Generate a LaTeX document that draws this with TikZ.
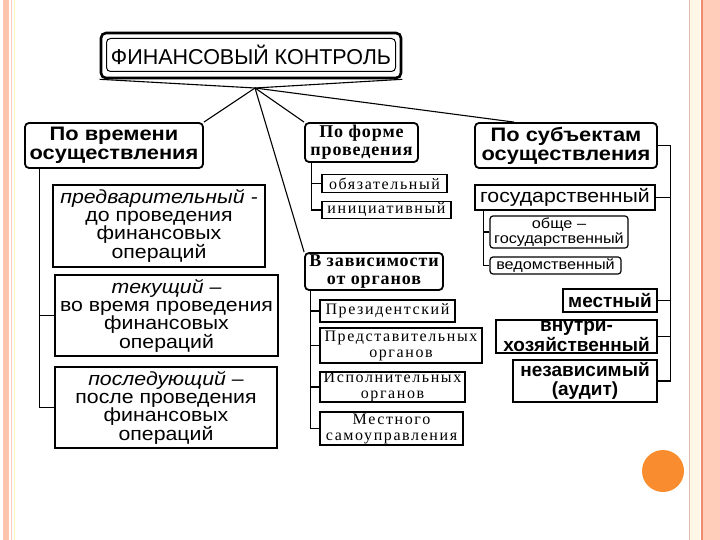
\documentclass[tikz,border=0pt]{standalone}
\usepackage{fontspec}
\setmainfont{Liberation Serif}
\setsansfont{Liberation Sans}
\newfontfamily\widesans[FakeStretch=1.12]{Liberation Sans}
\newfontfamily\wideserif[LetterSpace=10]{Liberation Serif}
\newfontfamily\hdrserif[LetterSpace=5]{Liberation Serif}
\usetikzlibrary{calc}
\definecolor{pinkc}{RGB}{255,196,172}
\definecolor{pinkl}{RGB}{255,205,185}
\definecolor{creamc}{RGB}{255,246,232}
\definecolor{tanc}{RGB}{222,190,170}
\definecolor{orline}{RGB}{238,140,105}
\definecolor{dotc}{RGB}{250,140,48}
\tikzset{
  bx/.style={draw, line width=1.6pt, inner sep=0pt, align=center},
  hdrs/.style={bx, rounded corners=4pt, line width=1.8pt,
     font=\widesans\bfseries\fontsize{19.5}{19}\selectfont},
  hdrr/.style={bx, rounded corners=4pt, line width=1.8pt,
     font=\hdrserif\bfseries\fontsize{18}{18}\selectfont},
  lbox/.style={bx, font=\widesans\fontsize{19}{18}\selectfont},
  rbox/.style={bx, font=\widesans\fontsize{19}{17}\selectfont},
  rboxb/.style={bx, font=\sffamily\bfseries\fontsize{19}{18}\selectfont},
  sbox/.style={bx, rounded corners=3pt, line width=1.2pt, font=\widesans\fontsize{14.5}{13}\selectfont},
  mbox/.style={bx, font=\wideserif\fontsize{16}{16}\selectfont},
  conn/.style={line width=1.1pt},
}
\begin{document}
\begin{tikzpicture}[x=1pt,y=-1pt]
\useasboundingbox (0,0) rectangle (720,540);
% slide frame
\fill[pinkc] (3,0) rectangle (9,540);
\draw[pinkl, line width=1pt] (11,0) -- (11,540);
\draw[creamc!80!yellow, line width=1pt] (14,0) -- (14,540);
\fill[creamc] (690,0) rectangle (700,540);
\draw[tanc, line width=1pt] (689,0) -- (689,540);
\fill[orline] (700.5,0) rectangle (703,540);
\fill[pinkl] (703,0) rectangle (720,540);
\fill[dotc] (663,471) circle (21);

% title
\node[draw, line width=2.6pt, rounded corners=5pt, minimum width=300pt, minimum height=45pt, inner sep=0pt] (title) at (251,55.5) {};
\node[draw, line width=1pt, rounded corners=4pt, minimum width=289pt, minimum height=33pt, inner sep=0pt,
  font=\sffamily\fontsize{21.5}{21}\selectfont] (titlein) at (251,55) {ФИНАНСОВЫЙ КОНТРОЛЬ};
\coordinate (hub) at (255,88);
\draw[conn] (title.south west) -- (hub) -- (title.south east);

% left column
\node[hdrs, minimum width=178pt, minimum height=45pt] (time) at (114,145.5) {По времени\\осуществления};
\node[lbox, minimum width=212pt, minimum height=82pt] (b1) at (159,226) {{\itshape предварительный -}\\до проведения\\финансовых\\операций};
\node[lbox, minimum width=223pt, minimum height=81pt] (b2) at (166.5,315.5) {{\itshape текущий –}\\во время проведения\\финансовых\\операций};
\node[lbox, line width=2.6pt, minimum width=222pt, minimum height=81pt] (b3) at (166,407.5) {{\itshape последующий –}\\после проведения\\финансовых\\операций};

% middle column
\node[hdrr, minimum width=113pt, minimum height=39pt] (form) at (361.5,142.5) {По форме\\проведения};
\node[mbox, minimum width=125pt, minimum height=18pt] (obl) at (384.5,183.5) {обязательный};
\node[mbox, minimum width=129pt, minimum height=17pt] (ini) at (386.5,210) {инициативный};
\node[hdrr, minimum width=138pt, minimum height=37pt] (org) at (374,271.5) {В зависимости\\от органов};
\node[mbox, minimum width=135pt, minimum height=22pt] (prez) at (387.5,311) {Президентский};
\node[mbox, minimum width=162pt, minimum height=35pt] (pred) at (401,345.5) {Представительных\\органов};
\node[mbox, minimum width=145pt, minimum height=30pt] (isp) at (392.5,387) {Исполнительных\\органов};
\node[mbox, minimum width=143pt, minimum height=33pt] (mest) at (391.5,428.5) {Местного\\самоуправления};

% right column
\node[hdrs, minimum width=182pt, minimum height=45pt] (subj) at (566,145.5) {По субъектам\\осуществления};
\node[rbox, minimum width=180pt, minimum height=25pt] (gos) at (565,197.5) {государственный};
\node[sbox, minimum width=138pt, minimum height=32pt] (obsh) at (559,232) {обще –\\государственный};
\node[sbox, minimum width=131pt, minimum height=17pt] (ved) at (555.5,265.5) {ведомственный};
\node[rboxb, minimum width=94pt, minimum height=23pt] (mestn) at (610,300.5) {местный};
\node[rboxb, minimum width=161pt, minimum height=33pt] (vnut) at (576.5,336.5) {внутри-\\хозяйственный};
\node[rboxb, font=\sffamily\bfseries\fontsize{19}{19.5}\selectfont, minimum width=144pt, minimum height=42pt] (nez) at (585,381) {независимый\\(аудит)};

% fan connectors
\draw[conn] (hub) -- (time.north east);
\draw[conn] (hub) -- (org.north west);
\draw[conn] (hub) -- (form.north west);
\draw[conn] (hub) -- ([xshift=40pt]subj.north west);

% tree connectors
\draw[conn] ([xshift=15pt]time.south west) |- (b3.west);
\draw[conn] (b2.west) -- ++(-15,0);
\draw[conn] ([xshift=7pt]form.south west) |- (ini.west);
\draw[conn] (obl.west) -- ++(-10,0);
\draw[conn] ([xshift=6pt]org.south west) |- (mest.west);
\draw[conn] (prez.west) -- ++(-9,0);
\draw[conn] (pred.west) -- ++(-9,0);
\draw[conn] (isp.west) -- ++(-9,0);
\draw[conn] (subj.east) -- ++(13,0) coordinate (rv);
\draw[conn] (rv) |- (nez.east);
\draw[conn] (gos.east) -- ++(15,0);
\draw[conn] (mestn.east) -- ++(13,0);
\draw[conn] (vnut.east) -- ++(13,0);
\draw[conn] ([xshift=9pt]gos.south west) |- (ved.west);
\draw[conn] (obsh.west) -- ++(-6,0);
\end{tikzpicture}
\end{document}
